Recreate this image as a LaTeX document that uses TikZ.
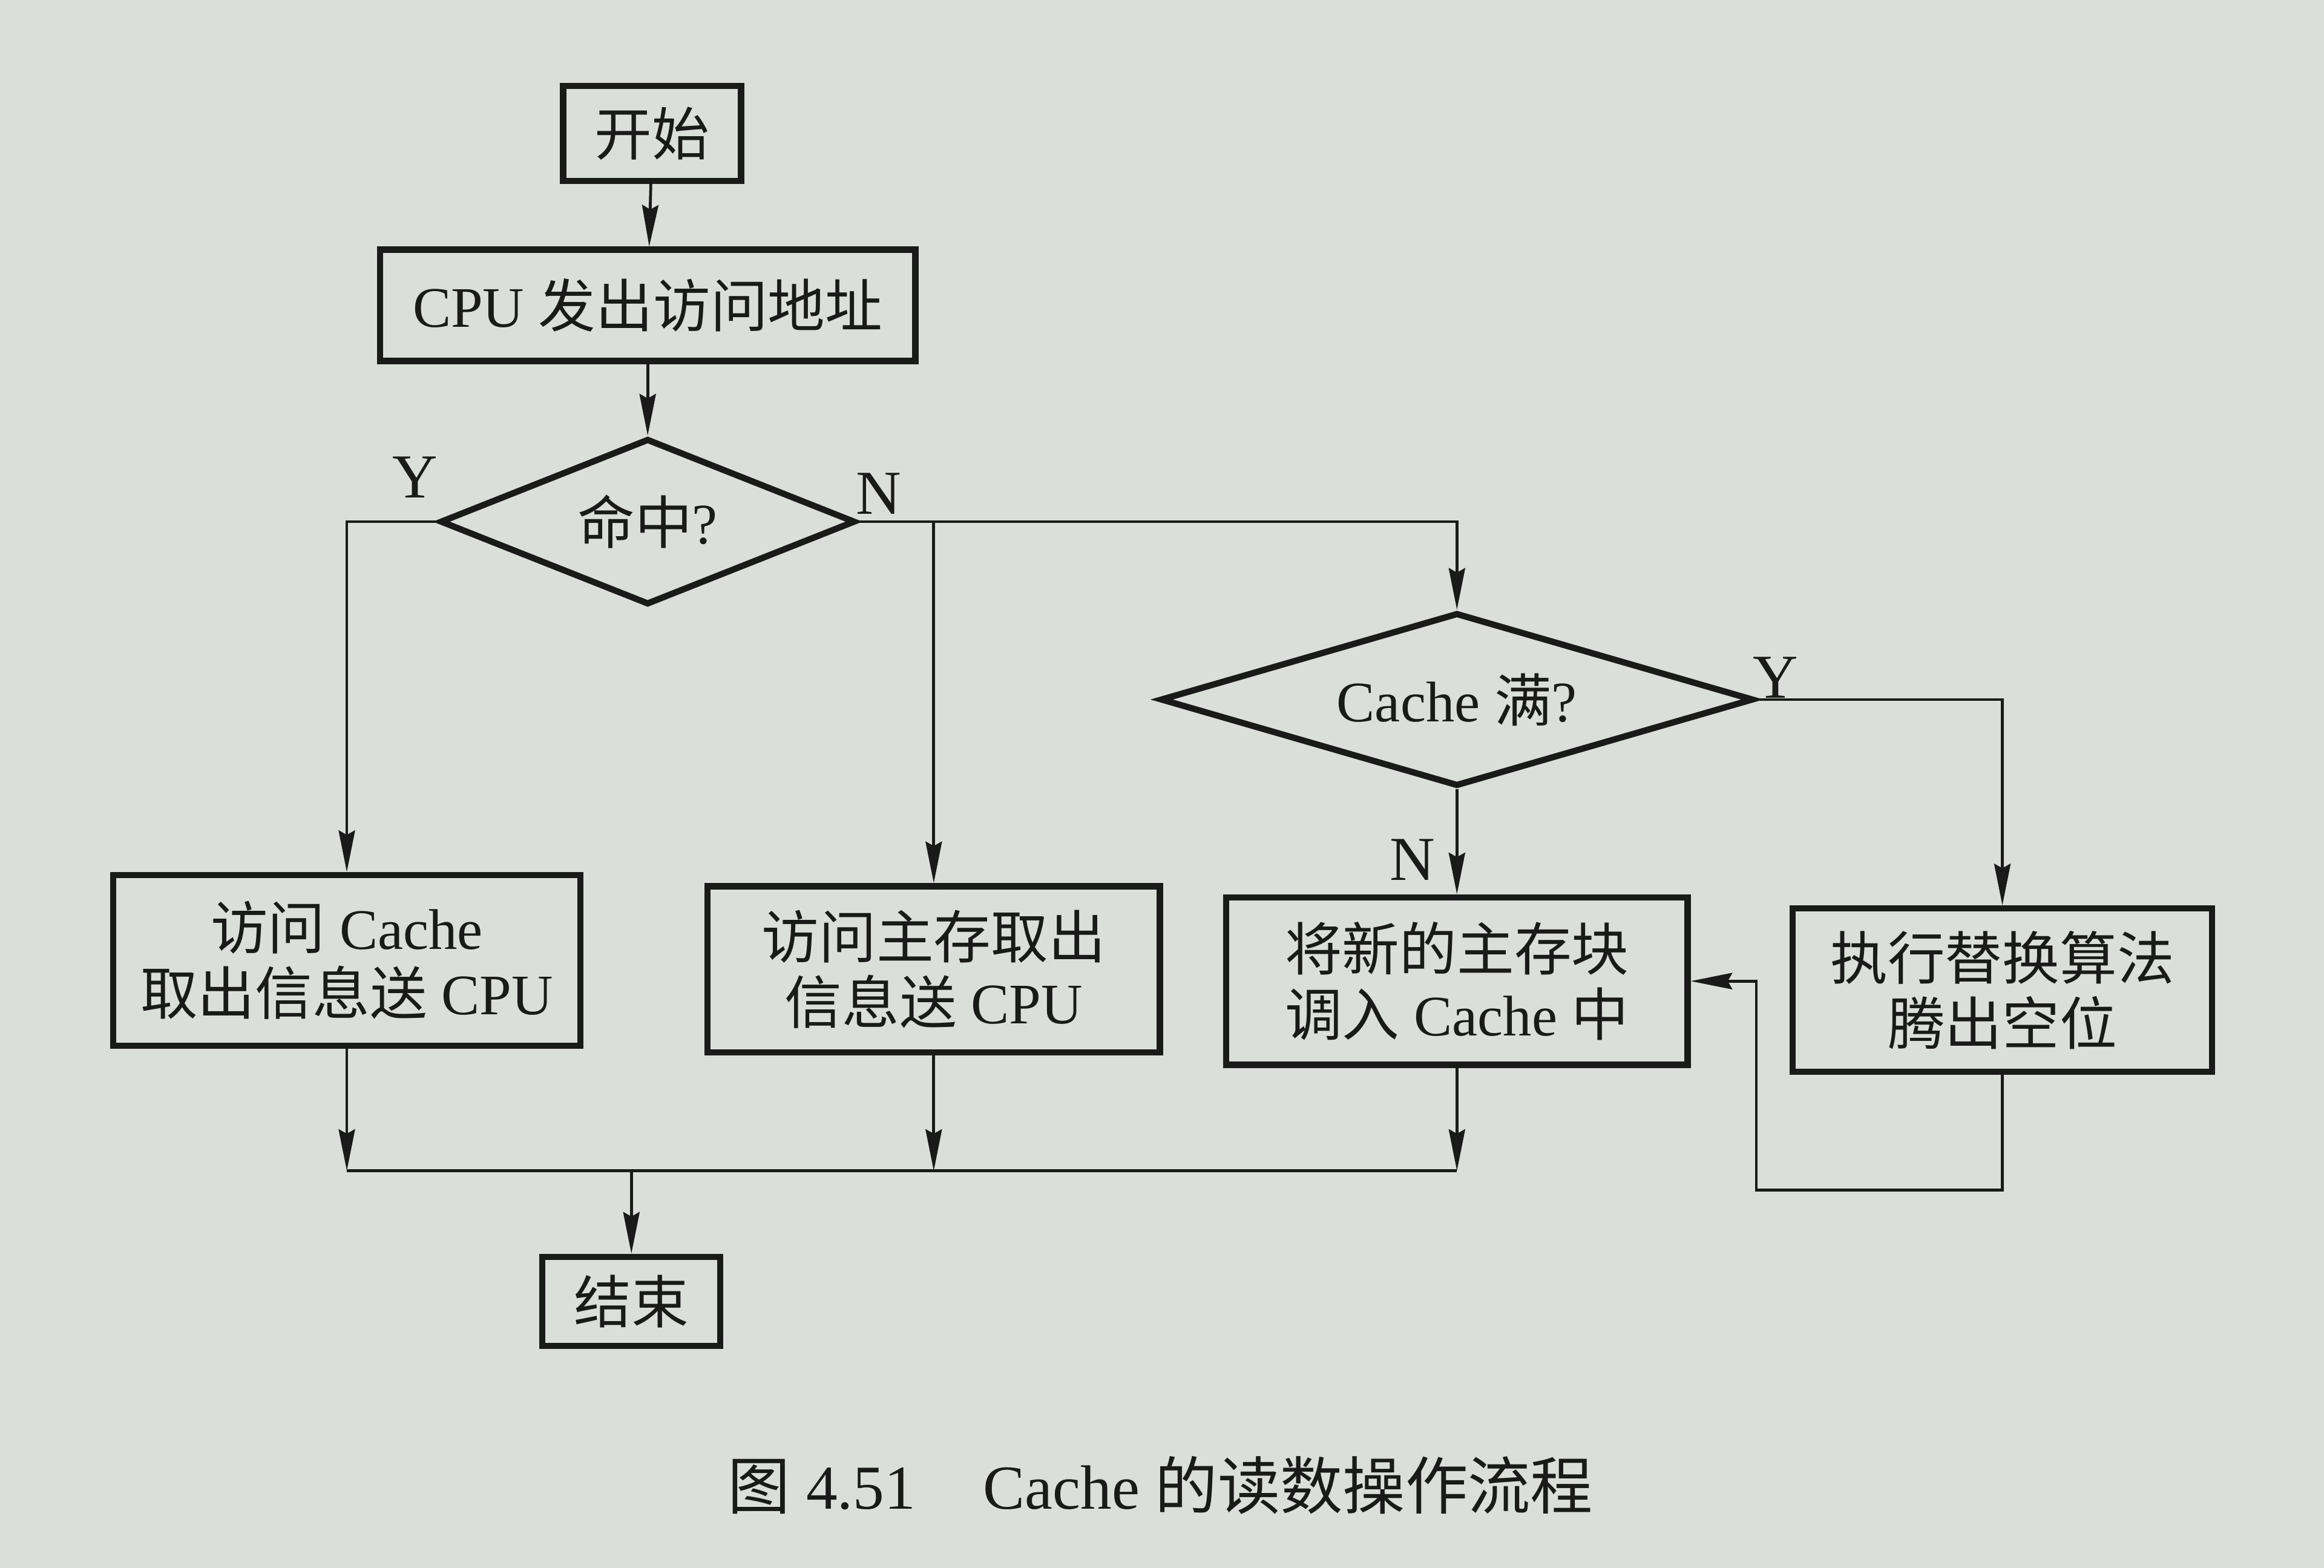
\documentclass[tikz,border=0pt]{standalone}
\usepackage{fontspec}
\setmainfont{Liberation Serif}
\newfontfamily\cjk{Noto Sans CJK SC}
\newcommand\zh[1]{{\cjk #1}}
\usetikzlibrary{shapes.geometric,arrows.meta}
\definecolor{paper}{RGB}{220,222,219}
\definecolor{ink}{RGB}{26,26,26}
\begin{document}
\begin{tikzpicture}[x=0.01cm,y=-0.01cm,
 box/.style={draw=ink, line width=1.2pt, rectangle, align=center, inner sep=0pt, text=ink, font=\fontsize{11}{12.5}\selectfont},
 dia/.style={draw=ink, line width=1.2pt, diamond, inner sep=0pt, text=ink, font=\fontsize{11}{12.5}\selectfont},
 arr/.style={draw=ink, line width=0.55pt, -{Stealth[length=2.8mm,width=1.1mm,inset=0.3mm]}},
 ln/.style={draw=ink, line width=0.55pt},
 lab/.style={text=ink, font=\fontsize{12}{14}\selectfont, inner sep=0pt}]
\fill[paper] (0,0) rectangle (1568,1058);
\useasboundingbox (0,0) rectangle (1568,1058);

% nodes
\node[box, minimum width=1.20cm, minimum height=0.64cm] (start) at (440,90) {\zh{开始}};
\node[box, minimum width=3.61cm, minimum height=0.75cm] (cpu) at (437,206) {CPU \zh{发出访问地址}};
\node[dia, aspect=2.5, minimum width=2.80cm, minimum height=1.12cm] (d1) at (437,352) {\zh{命中}?};
\node[box, minimum width=3.15cm, minimum height=1.15cm] (b1) at (234,648) {\zh{访问} Cache\\\zh{取出信息送} CPU};
\node[box, minimum width=3.05cm, minimum height=1.12cm] (b2) at (630,654) {\zh{访问主存取出}\\\zh{信息送} CPU};
\node[dia, aspect=3.4, minimum width=4.00cm, minimum height=1.17cm] (d2) at (983,472) {Cache \zh{满}?};
\node[box, minimum width=3.11cm, minimum height=1.13cm] (b3) at (983,662) {\zh{将新的主存块}\\\zh{调入} Cache \zh{中}};
\node[box, minimum width=2.83cm, minimum height=1.10cm] (b4) at (1351,668) {\zh{执行替换算法}\\\zh{腾出空位}};
\node[box, minimum width=1.20cm, minimum height=0.60cm] (end) at (426,878) {\zh{结束}};

% labels
\node[lab] (ly1) at (280,322) {Y};
\node[lab] (ln1) at (593,333) {N};
\node[lab] (ly2) at (1198,457) {Y};
\node[lab] (ln2) at (953,580) {N};

% caption
\node[text=ink, font=\fontsize{12}{14}\selectfont, inner sep=0pt] (cap) at (783,1002)
  {\zh{图} 4.51\hspace{10pt} Cache \zh{的读数操作流程}};

% connectors
\draw[arr] (start) -- (cpu);
\draw[arr] (cpu) -- (d1);
\draw[arr] (d1.west) -| (b1.north);
\draw[arr] (d1.east) -| (d2.north);
\coordinate (j1) at (b2.north |- d1.east);
\draw[arr] (j1) -- (b2.north);
\draw[arr] (d2.east) -| (b4.north);
\draw[arr] (d2.south) -- (b3.north);
\coordinate (lp) at (1185,803);
\draw[arr] (b4.south) |- (lp) |- (b3.east);

\coordinate (m1) at (234,790);
\coordinate (m3) at (b3.south |- m1);
\draw[arr] (b1.south) -- (m1);
\draw[arr] (b2.south) -- (b2.south |- m1);
\draw[arr] (b3.south) -- (m3);
\draw[ln] (m1) -- (m3);
\draw[arr] (end.north |- m1) -- (end.north);
\end{tikzpicture}
\end{document}
